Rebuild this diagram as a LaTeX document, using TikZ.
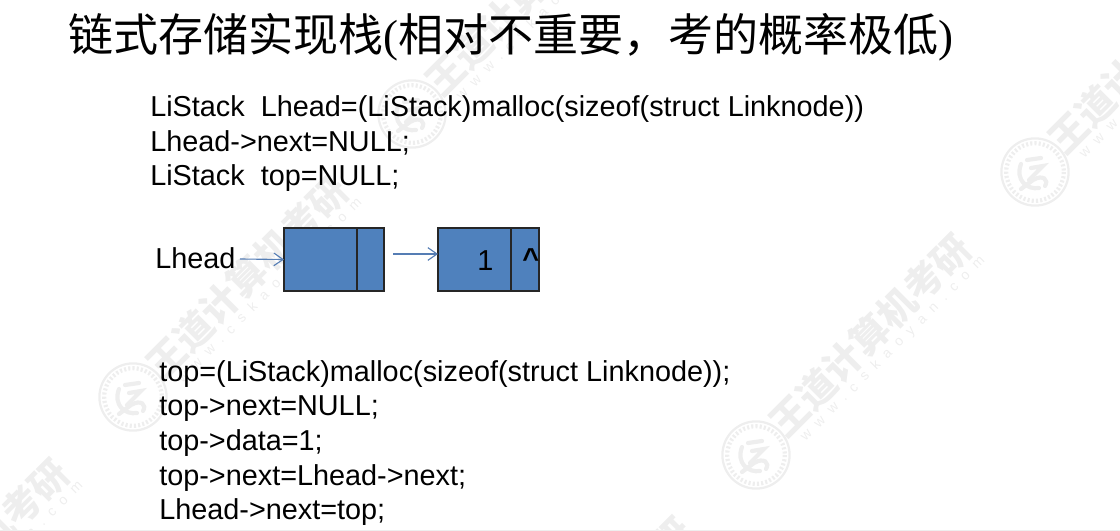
\documentclass[tikz,border=0pt]{standalone}
\usepackage{fontspec}
\setmainfont{Liberation Sans}
\newfontfamily\cjk{Noto Sans CJK SC}
\newfontfamily\titlefont{Liberation Serif}
\usetikzlibrary{arrows.meta}
\definecolor{cellblue}{RGB}{79,129,189}
\definecolor{arrowblue}{RGB}{85,125,180}
\definecolor{markgray}{RGB}{238,238,238}
\tikzset{
    codeline/.style={anchor=base west,inner sep=0pt,font=\fontsize{20.5}{22}\selectfont},
    cell/.style={draw=black!85,fill=cellblue,line width=1pt,anchor=north west,inner sep=0pt,outer sep=0pt,minimum height=1.575cm},
    linkarrow/.style={draw=arrowblue,line width=0.8pt,-{Straight Barb[length=6.5pt,width=9pt]}},
    sealring/.style={draw=markgray,line width=1.6pt},
    sealband/.style={draw=markgray,line width=3pt,dash pattern=on 1.5pt off 1.5pt},
    sealmark/.style={draw=markgray,line width=3pt,line cap=round},
    markmain/.style={text=markgray,rotate=45,inner sep=0pt,font=\cjk\bfseries\fontsize{27}{29}\selectfont},
    markurl/.style={text=markgray,rotate=45,inner sep=0pt,font=\fontsize{10}{11}\selectfont\addfontfeature{LetterSpace=62}}
}
\begin{document}
\begin{tikzpicture}[x=0.025cm,y=-0.025cm]
    \useasboundingbox (0,0) rectangle (1120,531);
    % watermark
    \foreach \mx/\my [count=\i] in {1149/52,870/335,526/-6,247/277,-32/560,591/618}{
        \node[markmain] (mark\i) at (\mx,\my) {王道计算机考研};
        \node[markurl] (url\i) at (\mx+23,\my+14) {www.cskaoyan.com};
    }
    \foreach \sx/\sy in {1035/172,756/455,412/114,133/397}{
        \begin{scope}[shift={(\sx,\sy)}]
            \draw[sealring] (0,0) circle[radius=1.6*21];
            \draw[sealband] (0,0) circle[radius=1.6*18];
            \draw[sealmark] (-14,-8) .. controls (-20,8) and (-8,18) .. (4,16);
            \draw[sealmark] (-14,17) -- (-2,8) .. controls (8,2) and (14,8) .. (10,14);
            \draw[sealmark] (-8,-12) -- (6,-14);
            \draw[sealmark] (-4,-4) -- (8,-6) -- (-6,8);
        \end{scope}
    }
    \draw[markgray] (0,530) -- (1120,530);
    % title
    \node[anchor=base west,inner sep=0pt,font=\fontsize{32}{34}\selectfont] (title) at (68,52)
        {{\cjk 链式存储实现栈}{\titlefont(}{\cjk 相对不重要，考的概率极低}{\titlefont)}};
    % code
    \node[codeline] (code1) at (150,117) {LiStack\ \ Lhead=(LiStack)malloc(sizeof(struct Linknode))};
    \node[codeline] (code2) at (150,152) {Lhead->next=NULL;};
    \node[codeline] (code3) at (150,186) {LiStack\ \ top=NULL;};
    \node[codeline] (code4) at (159,381) {top=(LiStack)malloc(sizeof(struct Linknode));};
    \node[codeline] (code5) at (159,415) {top->next=NULL;};
    \node[codeline] (code6) at (159,450) {top->data=1;};
    \node[codeline] (code7) at (159,485) {top->next=Lhead->next;};
    \node[codeline] (code8) at (159,519) {Lhead->next=top;};
    % list
    \node[codeline] (lhead) at (155,269) {Lhead};
    \node[cell,minimum width=1.825cm] (headdata) at (284,228) {};
    \node[cell,minimum width=0.675cm] (headnext) at (headdata.north east) {};
    \node[cell,minimum width=1.825cm] (firstdata) at (438,228) {};
    \node[cell,minimum width=0.7cm] (firstnext) at (firstdata.north east) {};
    \node[codeline] (one) at (477,271) {1};
    \node[codeline] (hat) at (522,269) {\textbf{\^{}}};
    \coordinate (lheadout) at (240,259);
    \coordinate (gapleft) at (393,254);
    \coordinate (gapright) at (438,254);
    \draw[linkarrow] (lheadout) -- (headdata.west);
    \draw[linkarrow] (gapleft) -- (gapright);
\end{tikzpicture}
\end{document}
